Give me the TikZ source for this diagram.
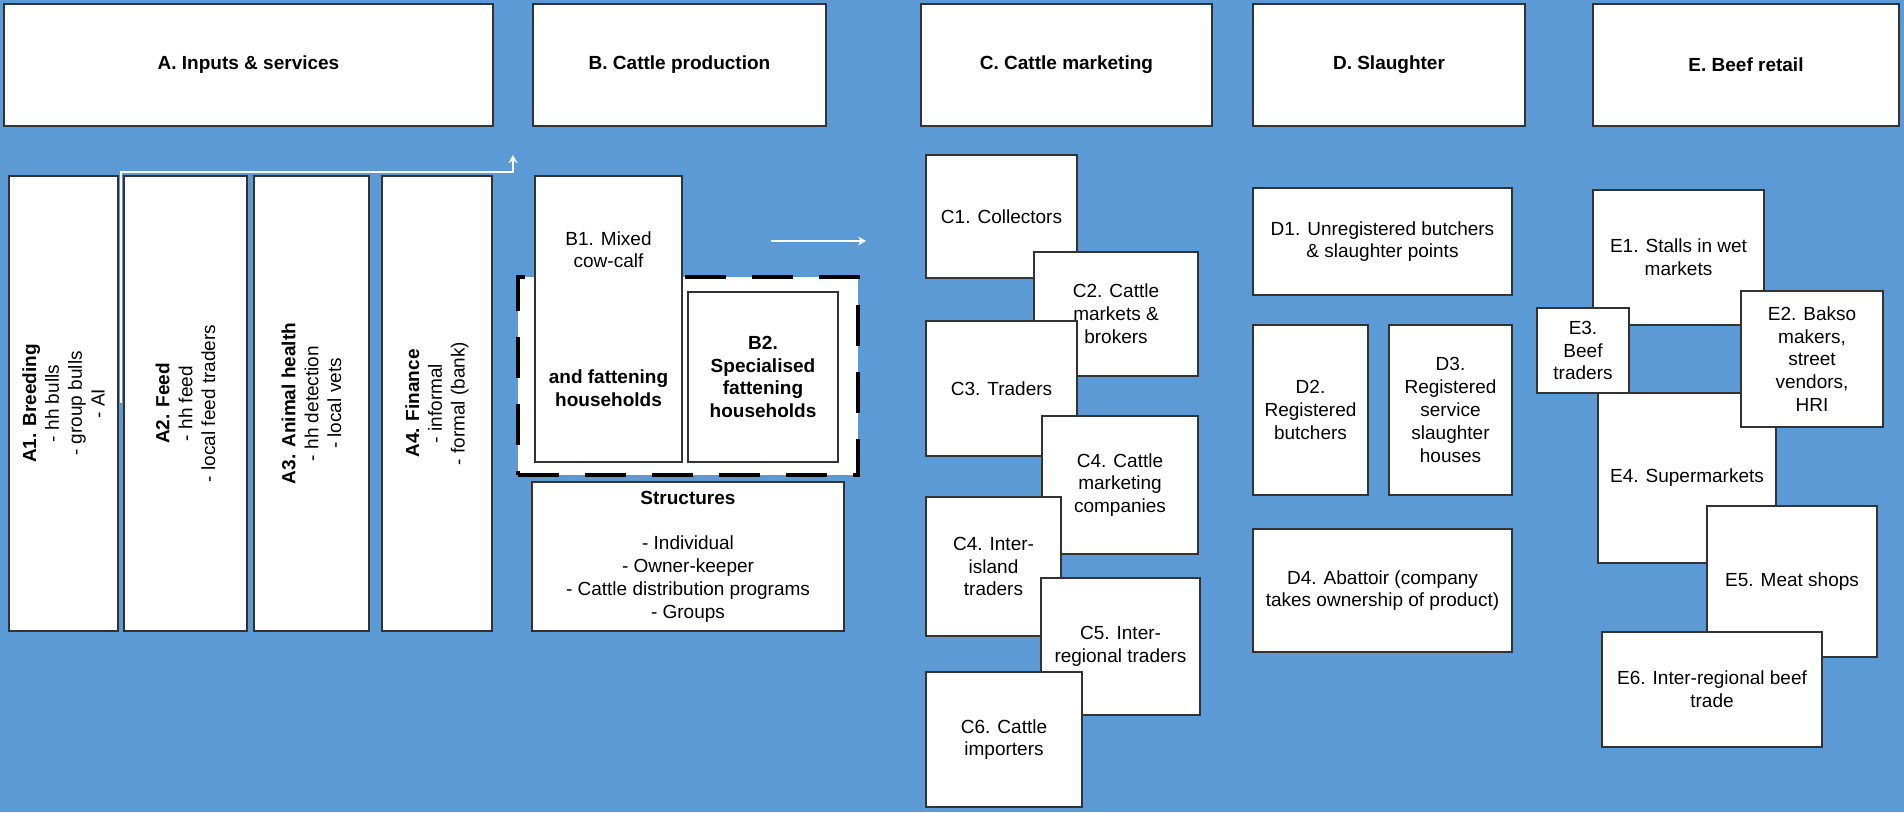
\documentclass[tikz,border=0pt]{standalone}
\usepackage{fontspec}
\setmainfont{Liberation Sans}
\usepackage{xcolor}
\usepackage{tikz}
\usetikzlibrary{arrows.meta,positioning}

\definecolor{bgblue}{HTML}{5B9AD5}

\begin{document}
\begin{tikzpicture}[
  x=1pt, y=-1pt,
  box/.style={rectangle, draw=black!80, fill=white, line width=1.2pt,
    inner sep=2pt, align=center, font=\fontsize{19}{22.8}\selectfont},
  head/.style={box, font=\fontsize{19}{22.8}\selectfont\bfseries},
  frame/.style={rectangle, draw=black, fill=white, line width=4.5pt,
    dash pattern=on 41pt off 26pt},
  wline/.style={draw=white, line width=1.3pt},
  warr/.style={wline, -{Stealth[length=8pt, width=9pt]}},
]
  \fill[bgblue] (0,0) rectangle (1904,812);
  \useasboundingbox (0,0) rectangle (1904,812);

  % stage headers
  \node[head, minimum width=489pt, minimum height=122pt] (hA) at (248.5,65) {A. Inputs \& services};
  \node[head, minimum width=293pt, minimum height=122pt] (hB) at (679.5,65) {B. Cattle production};
  \node[head, minimum width=291pt, minimum height=122pt] (hC) at (1066.5,65) {C. Cattle marketing};
  \node[head, minimum width=272pt, minimum height=122pt] (hD) at (1389,65) {D. Slaughter};
  \node[head, minimum width=306pt, minimum height=122pt] (hE) at (1746,65) {E. Beef retail};

  % inputs and services
  \node[box, rotate=90, minimum width=455pt, minimum height=109pt] (a1) at (63.5,403.5)
    {\textbf{A1. Breeding}\\- hh bulls\\- group bulls\\- AI};
  \node[box, rotate=90, minimum width=455pt, minimum height=123pt] (a2) at (185.5,403.5)
    {\textbf{A2. Feed}\\- hh feed\\- local feed traders};
  \node[box, rotate=90, minimum width=455pt, minimum height=115pt] (a3) at (311.5,403.5)
    {\textbf{A3. Animal health}\\- hh detection\\- local vets};
  \node[box, rotate=90, minimum width=455pt, minimum height=110pt] (a4) at (437,403.5)
    {\textbf{A4. Finance}\\- informal\\- formal (bank)};

  \coordinate (aup) at (121,403);
  \coordinate (atip) at (513,155);
  \draw[warr] (aup) |- (513,172) -- (atip);

  % cattle production
  \node[frame, minimum width=340pt, minimum height=198pt] (bfr) at (688,376) {};
  \node[box, minimum width=147pt, minimum height=286pt] (b1) at (608.5,319)
    {B1. Mixed\\cow-calf\\[93pt]\textbf{and fattening}\\\textbf{households}};
  \node[box, minimum width=150pt, minimum height=170pt] (b2) at (763,377)
    {\textbf{B2.}\\\textbf{Specialised}\\\textbf{fattening}\\\textbf{households}};
  \node[box, minimum width=312pt, minimum height=149pt] (bst) at (688,556.5)
    {\textbf{Structures}\\[22.8pt]- Individual\\- Owner-keeper\\- Cattle distribution programs\\- Groups};

  \coordinate (bflow) at (771,241);
  \coordinate (bflowend) at (866,241);
  \draw[warr] (bflow) -- (bflowend);

  % cattle marketing
  \node[box, minimum width=151pt, minimum height=123pt] (c1) at (1001.5,216.5) {C1. Collectors};
  \node[box, minimum width=164pt, minimum height=124pt] (c2) at (1116,314) {C2. Cattle\\markets \&\\brokers};
  \node[box, minimum width=151pt, minimum height=135pt] (c3) at (1001.5,388.5) {C3. Traders};
  \node[box, minimum width=156pt, minimum height=138pt] (c4m) at (1120,485) {C4. Cattle\\marketing\\companies};
  \node[box, minimum width=135pt, minimum height=139pt] (c4i) at (993.5,566.5) {C4. Inter-\\island\\traders};
  \node[box, minimum width=159pt, minimum height=137pt] (c5) at (1120.5,646.5) {C5. Inter-\\regional traders};
  \node[box, minimum width=156pt, minimum height=135pt] (c6) at (1004,739.5) {C6. Cattle\\importers};

  % slaughter
  \node[box, minimum width=259pt, minimum height=107pt] (d1) at (1382.5,241.5) {D1. Unregistered butchers\\\& slaughter points};
  \node[box, minimum width=115pt, minimum height=170pt] (d2) at (1310.5,410) {D2.\\Registered\\butchers};
  \node[box, minimum width=123pt, minimum height=170pt] (d3) at (1450.5,410) {D3.\\Registered\\service\\slaughter\\houses};
  \node[box, minimum width=259pt, minimum height=123pt] (d4) at (1382.5,590.5) {D4. Abattoir (company\\takes ownership of product)};

  % beef retail
  \node[box, minimum width=171pt, minimum height=135pt] (e1) at (1678.5,257.5) {E1. Stalls in wet\\markets};
  \node[box, minimum width=178pt, minimum height=170pt] (e4) at (1687,478) {E4. Supermarkets};
  \node[box, minimum width=142pt, minimum height=136pt] (e2) at (1812,359) {E2. Bakso\\makers,\\street\\vendors,\\HRI};
  \node[box, minimum width=92pt, minimum height=85pt] (e3) at (1583,350.5) {E3.\\Beef\\traders};
  \node[box, minimum width=170pt, minimum height=151pt] (e5) at (1792,581.5) {E5. Meat shops};
  \node[box, minimum width=220pt, minimum height=115pt] (e6) at (1712,689.5) {E6. Inter-regional beef\\trade};
\end{tikzpicture}
\end{document}
